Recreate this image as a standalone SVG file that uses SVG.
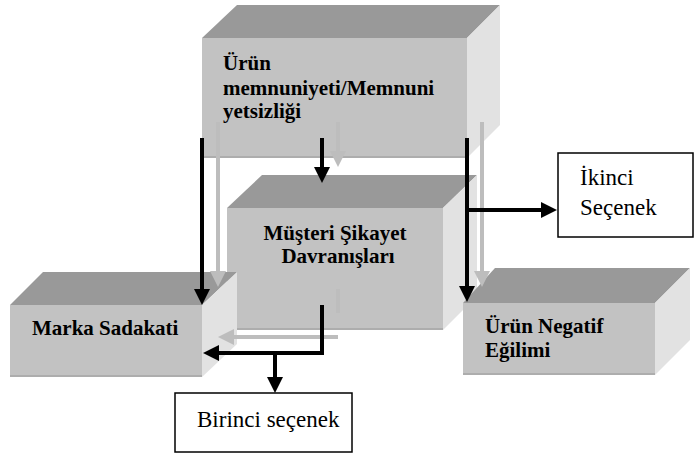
<svg xmlns="http://www.w3.org/2000/svg" width="694" height="457" viewBox="0 0 694 457">
<defs>
<style>
.front{fill:#c2c2c2}
.top{fill:#999999}
.side{fill:#e2e2e2}
.edge{stroke:#adadad;stroke-width:2;fill:none}
.lbl{font-family:"Liberation Serif","Times New Roman",serif;font-weight:bold;font-size:21px;fill:#000}
.plain{font-family:"Liberation Serif","Times New Roman",serif;font-size:23px;fill:#000}
.box{fill:#fff;stroke:#000;stroke-width:1.5}
.blk{stroke:#000;stroke-width:4;fill:none}
.gry{stroke:#bdbdbd;stroke-width:4;fill:none}
</style>
<marker id="ab" viewBox="0 0 16 16" markerWidth="16" markerHeight="16" refX="8" refY="8" orient="auto" markerUnits="userSpaceOnUse"><path d="M0,0 L16,8 L0,16 z" fill="#000"/></marker>
<marker id="ag" viewBox="0 0 16 16" markerWidth="16" markerHeight="16" refX="8" refY="8" orient="auto" markerUnits="userSpaceOnUse"><path d="M0,0 L16,8 L0,16 z" fill="#bdbdbd"/></marker>
</defs>
<rect width="694" height="457" fill="#fff"/>
<g id="urun-memnuniyeti">
<polygon class="top" points="202,38 237,5 500,5 467,38"/>
<polygon class="side" points="467,38 500,5 500,125 467,158"/>
<rect class="front" x="202" y="38" width="265" height="120"/>
<line class="edge" x1="202" y1="157" x2="467" y2="157"/>
<text class="lbl" x="223" y="70">Ürün</text>
<text class="lbl" x="223" y="95">memnuniyeti/Memnuni</text>
<text class="lbl" x="223" y="118">yetsizliği</text>
</g>
<g id="musteri-sikayet">
<polygon class="top" points="227,208 262,175 477,175 443,208"/>
<polygon class="side" points="443,208 477,175 477,296 443,330"/>
<rect class="front" x="227" y="208" width="216" height="122"/>
<line class="edge" x1="227" y1="329" x2="443" y2="329"/>
<text class="lbl" x="335" y="240" text-anchor="middle">Müşteri Şikayet</text>
<text class="lbl" x="338" y="263" text-anchor="middle">Davranışları</text>
</g>
<g id="marka-sadakati">
<polygon class="top" points="10,305 43,272 237,272 202,305"/>
<polygon class="side" points="202,305 237,272 237,344 202,377"/>
<rect class="front" x="10" y="305" width="192" height="72"/>
<line class="edge" x1="10" y1="376" x2="202" y2="376"/>
<text class="lbl" x="32" y="335">Marka Sadakati</text>
</g>
<g id="urun-negatif">
<polygon class="top" points="463,303 495,268 690,268 655,303"/>
<polygon class="side" points="655,303 690,268 690,340 655,375"/>
<rect class="front" x="463" y="303" width="192" height="72"/>
<line class="edge" x1="463" y1="374" x2="655" y2="374"/>
<text class="lbl" x="485" y="333">Ürün Negatif</text>
<text class="lbl" x="485" y="357">Eğilimi</text>
</g>
<g id="ikinci-secenek">
<rect class="box" x="558" y="153" width="135" height="84"/>
<text class="plain" x="580" y="185">İkinci</text>
<text class="plain" x="580" y="215">Seçenek</text>
</g>
<g id="birinci-secenek">
<rect class="box" x="175" y="393" width="177" height="59"/>
<text class="plain" x="197" y="427">Birinci seçenek</text>
</g>
<g id="connectors">
<path class="gry" d="M218,122 V279" marker-end="url(#ag)"/>
<path class="gry" d="M338,122 V159" marker-end="url(#ag)"/>
<path class="gry" d="M482,122 V279" marker-end="url(#ag)"/>
<path class="gry" d="M338,289 V313"/>
<path class="gry" d="M338,337 H226" marker-end="url(#ag)"/>
<path class="blk" d="M202,138 V297" marker-end="url(#ab)"/>
<path class="blk" d="M322,138 V175" marker-end="url(#ab)"/>
<path class="blk" d="M467,138 V294" marker-end="url(#ab)"/>
<path class="blk" d="M467,210 H549" marker-end="url(#ab)"/>
<path class="blk" d="M322,305 V353 H211" marker-end="url(#ab)"/>
<path class="blk" d="M275,353 V385" marker-end="url(#ab)"/>
</g>
</svg>
